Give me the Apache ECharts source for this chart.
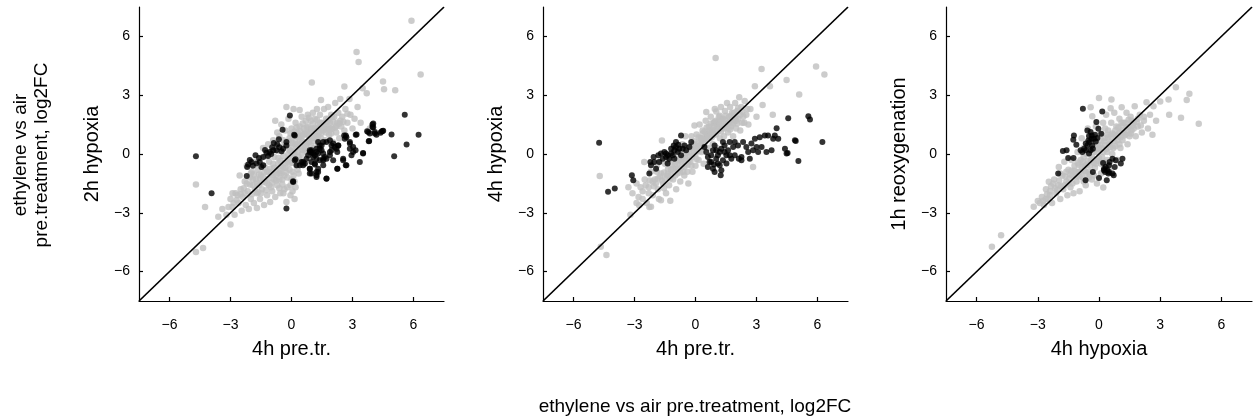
<!DOCTYPE html>
<html><head><meta charset="utf-8">
<script src="https://cdn.jsdelivr.net/npm/echarts@6/dist/echarts.min.js"></script>
<style>html,body{margin:0;padding:0;background:#fff}#c{width:1253px;height:420px}</style>
</head><body><div id="c"></div><script>
const tickValues=[-6,-3,0,3,6];
const axisRange=[-7.5,7.5];
const xNames=['4h pre.tr.','4h pre.tr.','4h hypoxia'];
const yNames=['2h hypoxia','4h hypoxia','1h reoxygenation'];
const outerYName=['ethylene vs air','pre.treatment, log2FC'];
const outerXName='ethylene vs air pre.treatment, log2FC';

const p1Grey=[[-3.2,-3.1],[-3.0,-3.6],[-3.0,-2.3],[-2.9,-2.7],[-2.8,-3.1],[-2.75,-2.0],[-2.6,-2.5],[-2.55,-1.1],[-2.5,-1.8],[-2.45,-2.9],[-2.4,-2.2],
[-2.3,-1.4],[-2.25,-2.6],[-2.2,-0.6],[-2.15,-1.9],[-2.1,-2.8],[-2.05,-1.2],[-2.0,-2.3],[-1.95,-0.9],[-1.9,-1.6],[-1.85,-2.5],[-1.8,-0.4],[-1.75,-1.3],[-1.7,-2.0],[-1.7,-2.75],[-1.65,-0.8],[-1.6,-1.6],[-1.55,-2.3],
[-1.5,-0.2],[-1.5,-1.1],[-1.45,-1.8],[-1.4,0.3],[-1.4,-0.6],[-1.35,-2.6],[-1.3,-1.4],[-1.25,-0.1],[-1.2,-0.9],[-1.2,-2.1],[-1.15,0.5],[-1.1,-0.4],[-1.1,-1.6],[-1.05,-2.45],[-1.0,0.1],[-1.0,-1.0],[-0.95,-1.9],[-0.9,0.7],[-0.9,-0.5],[-0.85,-1.3],[-0.8,1.7],[-0.8,0.2],[-0.8,-2.2],
[-0.75,-0.8],[-0.7,1.1],[-0.7,0.4],[-0.7,-1.6],[-0.65,-0.2],[-0.6,0.9],[-0.6,-1.0],[-0.55,-2.0],[-0.5,1.5],[-0.5,0.2],[-0.5,-0.6],[-0.45,-1.3],[-0.4,0.7],[-0.4,-0.1],[-0.35,-1.8],[-0.3,1.2],[-0.3,-0.7],[-0.25,2.4],[-0.25,0.4],[-0.25,-2.45],[-0.2,-1.2],[-0.15,1.8],[-0.15,0.0],[-0.1,0.8],[-0.1,-0.5],[-0.05,-1.6],[-0.05,-2.1],
[0.0,1.3],[0.0,0.3],[0.05,-0.9],[0.1,2.3],[0.1,0.9],[0.1,-0.2],[0.15,-1.4],[0.15,-2.3],[0.2,1.6],[0.2,0.5],[0.25,-0.6],[0.3,1.1],[0.3,0.1],[0.35,-1.0],[0.4,2.25],[0.4,1.4],[0.4,0.6],[0.45,-0.3],[0.5,1.9],[0.5,0.9],[0.55,0.2],[0.6,1.3],[0.6,-0.5],[0.65,0.6],[0.7,1.7],[0.7,1.0],[0.75,0.1],[0.8,2.0],
[0.8,1.4],[0.85,0.6],[0.9,1.1],[0.9,-0.2],[0.95,1.7],[1.0,3.65],[1.0,0.8],[1.05,2.1],[1.1,1.3],[1.1,0.3],[1.15,1.8],[1.2,0.9],[1.25,2.3],[1.3,1.5],[1.3,0.5],[1.35,1.1],[1.4,2.0],[1.45,2.75],[1.45,0.8],[1.5,1.6],[1.55,1.2],[1.6,2.3],
[1.65,0.7],[1.7,1.8],[1.75,1.3],[1.8,2.4],[1.85,1.0],[1.9,1.6],[1.95,2.0],[2.0,1.3],[2.05,0.6],[2.1,1.9],[2.15,2.6],[2.2,1.1],[2.25,1.6],[2.3,2.1],[2.35,0.8],[2.4,2.8],[2.45,1.4],[2.5,1.9],
[2.6,3.45],[2.6,1.2],[2.65,2.3],[2.75,1.6],[2.85,2.8],[2.9,2.0],[3.0,1.3],[3.1,1.8],[3.2,5.2],[3.25,2.4],[3.3,4.7],[3.4,1.6],[3.5,3.35],[3.7,3.1],[3.85,1.3],[4.5,3.7],[4.55,3.3],[5.1,3.25],[5.9,6.8],[6.35,4.05],
[-4.7,-5.0],[-4.35,-4.8],[-4.7,-1.55],[-4.25,-2.7],[-3.4,-2.8],[-3.6,-3.2],
[-2.35,-1.75],[-2.05,-1.55],[-1.85,-1.05],[-1.65,-1.95],[-1.45,-1.45],[-1.35,-0.95],[-1.25,-1.85],[-1.05,-0.75],[-0.95,-1.45],[-0.85,-0.15],[-0.75,-1.05],[-0.65,0.15],[-0.55,-0.35],[-0.45,-1.55],[-0.35,0.45],[-0.35,-0.45],[-0.25,-0.95],[-0.15,0.65],[-0.15,-0.25],[-0.05,1.05],[-0.05,0.15],[0.05,-0.45],[0.05,0.55],[0.15,1.15],[0.15,0.05],[0.25,0.35],[0.25,1.35],[0.35,0.85],[0.35,-0.15],[0.45,1.15],[0.45,0.35],[0.55,1.55],[0.55,0.65],[0.65,1.05],[0.65,0.25],[0.75,1.35],[0.75,0.55],[0.85,1.85],[0.85,0.95],[0.95,1.25],[0.95,0.45],[1.05,1.55],[1.05,0.65],[1.15,1.05],[1.25,1.75],[1.25,0.75],[1.35,1.35],[1.45,1.05],[1.55,1.55],[1.65,1.25],[1.75,1.65],[1.85,1.35],[1.95,1.05],[2.05,1.65],[2.15,1.35],[2.35,1.55],[2.55,1.65],[2.75,2.05],[-2.65,-2.1],[-2.85,-2.5],[-1.95,-2.05],[-1.55,-1.25],[-1.15,-1.25],[-0.55,-0.85],[0.1,-1.1],[0.3,-0.8],[-0.6,-1.3],[-1.9,-1.3],
[-2.7,-2.35],[-2.5,-2.05],[-2.3,-2.0],[-2.2,-1.5],[-2.0,-1.0],[-1.8,-1.8],[-1.7,-1.5],[-1.6,-1.05],[-1.5,-2.0],[-1.4,-1.2],[-1.3,-0.7],[-1.2,-1.5],[-1.1,-0.9],[-1.0,-1.7],[-0.9,-1.1],[-0.85,-0.7],[-0.75,-1.35],[-0.65,-0.5],[-0.6,-1.75],[-0.5,-1.0],[-0.4,-0.7],[-0.35,-1.1],[-0.2,-0.4],[-0.2,-1.7],[-0.1,0.2],[-0.1,-0.8],[0.0,0.6],[0.0,-1.3],[0.1,0.0],[0.2,-0.4],[0.2,0.8],[0.3,0.5],[0.35,-0.5],[0.4,0.9],[0.5,0.55],[0.5,0.0],[0.6,1.0],[0.7,0.4],[0.8,1.1],[0.9,0.75],[1.0,1.3],[1.1,0.9],[1.2,1.3],[1.3,0.9],[1.4,1.6],[1.5,1.3],[1.6,1.5],[1.7,1.1],[1.8,1.8],[1.9,1.25],[2.0,1.9],[2.2,1.4],[2.4,1.7],[-2.9,-2.0],[-3.1,-2.7],[0.05,-1.9],[0.2,-1.7],[-0.4,-2.0]];

const p1Black=[[-4.7,-0.12],[-3.93,-2.0],[-0.08,1.97],[-0.44,1.24],[-0.87,0.56],[-0.62,0.75],[0.13,0.98],[-0.25,0.61],[-0.25,0.44],[-1.77,-0.07],[-2.13,-0.53],[-2.18,-0.66],[-2.2,-1.12],[-1.97,-0.41],[-1.72,-0.49],[-1.56,-0.41],[-1.39,-0.15],[-1.23,0.07],[-1.07,0.1],[-0.9,0.19],[-0.74,0.19],[-0.49,0.14],[-0.41,0.27],[-1.39,-0.58],[-1.48,-0.66],[-1.9,-0.6],[-1.6,-0.2],[-1.15,-0.1],[-0.95,0.35],[-0.6,0.35],[-2.05,-0.3],[-1.3,0.2],[-1.0,0.0],[-0.7,0.5],[0.16,0.95],
[-0.25,-2.78],[0.08,-1.39],[0.2,-0.27],
[0.49,-0.41],[0.57,-0.58],[0.66,-0.49],[0.9,0.19],[0.98,0.1],[1.07,0.02],[1.23,0.27],[1.31,0.61],[1.39,0.44],[1.48,0.19],[1.56,0.02],[1.56,-0.32],[1.23,-0.24],[0.9,-0.75],[0.9,-1.0],[1.23,-1.17],[1.31,-0.92],[1.15,-0.54],[1.72,-1.25],[1.89,0.1],[1.97,0.44],[2.13,0.36],[2.3,0.44],[2.05,-0.32],[2.25,-0.75],[2.54,-0.24],[2.67,-0.58],[2.59,0.95],[2.7,0.86],[2.87,0.61],[2.87,0.27],[3.03,0.1],[3.16,0.98],[3.36,-0.41],[3.52,0.02],[3.15,0.19],[3.77,1.12],[3.82,0.66],[3.98,1.51],[4.02,1.37],[4.1,1.12],[4.18,0.98],[4.43,1.15],[4.51,1.19],[4.92,1.0],[5.05,-0.12],[5.57,2.0],[5.66,0.49],[6.25,0.98],[2.25,0.1],
[1.89,0.7],[1.72,0.61],[1.56,0.61],[1.48,0.44],[1.39,0.27],[1.31,0.02],[1.23,0.1],[1.15,-0.07],[1.07,-0.15],[0.98,0.19],[0.9,0.1],[0.82,-0.07],[0.74,-0.24],[0.98,-0.41],[1.15,-0.49],[1.39,-0.32],[1.56,-0.24],[1.72,-0.24],[1.89,-0.07],[1.64,-0.15],[1.56,-0.58],[1.31,-0.75],[1.23,-0.92],[0.9,-0.75],[0.98,-1.0],[1.23,-1.09],[1.72,-1.26],[0.57,-0.41],[0.41,-0.58],[0.25,-0.58],[0.16,-0.32],[0.08,-1.43],[2.3,0.44],[2.21,0.27],[2.05,0.53],[1.97,0.19],[2.67,0.95],[2.62,0.78],[2.87,0.53],[2.95,-0.07],[2.54,-0.32],[2.7,-0.58],[2.26,-0.75],[3.2,0.99],[3.03,0.36],[3.8,0.65],[3.52,0.05],[3.72,1.16],[3.85,1.04],[4.1,1.04],[4.48,1.17],[4.38,1.09],[4.02,1.55],[3.98,1.38]];

const p2Grey=[[-4.71,-1.12],[-4.66,-4.73],[-4.38,-5.15],[-3.3,-1.7],[-3.2,-3.1],[-3.1,-2.0],[-2.9,-1.5],[-2.8,-2.2],[-2.77,-2.62],[-2.6,-1.9],[-2.52,-0.41],[-2.5,-1.3],[-2.4,-2.5],[-2.3,-1.7],[-2.27,-2.7],[-2.2,-0.9],[-2.19,-2.69],[-2.1,-2.1],[-2.0,-1.3],[-1.9,-0.6],[-1.85,-1.8],[-1.8,-2.3],[-1.7,-2.36],[-1.7,-1.0],[-1.65,0.69],[-1.6,-1.5],[-1.5,-0.5],[-1.45,-2.0],[-1.4,-1.1],[-1.3,-0.3],[-1.3,-1.6],[-1.24,-2.39],[-1.2,-0.8],[-1.1,-1.3],[-1.05,0.1],[-1.0,-0.5],[-0.95,-1.8],[-0.9,-1.0],[-0.85,0.2],[-0.8,-0.3],[-0.75,-1.4],[-0.7,-0.7],[-0.65,0.5],[-0.6,-0.1],[-0.55,-1.1],[-0.5,0.9],[-0.5,-0.5],[-0.45,0.3],[-0.4,-0.9],[-0.35,-1.5],[-0.3,0.1],[-0.25,-0.4],[-0.2,0.9],[-0.15,-0.9],[-0.1,0.5],[-0.05,1.46],[0.0,0.0],[0.0,-0.6],[0.05,1.0],[0.1,0.4],[0.15,-0.3],[0.2,1.5],[0.25,0.8],[0.3,0.1],[0.35,1.2],[0.4,-0.5],[0.45,0.6],[0.5,1.7],[0.53,2.14],[0.55,1.0],[0.6,0.3],[0.65,1.4],[0.7,0.8],[0.75,1.9],[0.8,1.2],[0.85,0.5],[0.9,1.6],[0.95,2.3],[0.99,4.9],[1.0,1.0],[1.02,2.17],[1.05,0.3],[1.1,1.4],[1.15,1.9],[1.2,0.8],[1.25,2.4],[1.3,1.3],[1.35,1.8],[1.4,0.9],[1.45,2.2],[1.5,1.5],[1.55,2.6],[1.6,1.1],[1.65,1.9],[1.7,2.4],[1.75,1.4],[1.8,2.1],[1.85,0.9],[1.9,1.7],[1.95,2.6],[2.0,1.3],[2.05,2.2],[2.1,1.8],[2.15,2.9],[2.2,1.2],[2.25,2.4],[2.3,1.6],[2.42,2.7],[2.5,2.0],[2.6,1.5],[2.7,2.3],[2.83,-0.66],[2.92,3.46],[3.0,1.9],[3.25,4.34],[3.3,2.5],[3.66,3.46],[3.8,2.0],[4.48,3.78],[5.1,3.03],[5.93,4.47],[6.34,4.05],
[-2.45,-1.6],[-2.25,-1.35],[-2.05,-1.65],[-1.85,-1.25],[-1.65,-1.35],[-1.55,-0.95],[-1.35,-0.75],[-1.25,-1.25],[-1.15,-0.55],[-0.95,-0.75],[-0.85,-0.45],[-0.75,-0.95],[-0.65,-0.25],[-0.55,-0.65],[-0.45,0.05],[-0.35,-0.35],[-0.25,0.35],[-0.15,-0.15],[-0.05,0.65],[0.05,0.25],[0.15,0.85],[0.25,0.45],[0.35,1.05],[0.45,0.75],[0.55,1.35],[0.65,1.05],[0.75,1.55],[0.85,1.25],[0.95,1.65],[1.05,1.35],[1.15,1.65],[1.25,1.15],[1.35,1.45],[1.45,1.75],[1.55,1.35],[1.65,1.65],[1.75,1.95],[1.85,1.55],[1.95,1.85],[2.05,1.55],[2.2,2.0],[2.35,1.9],[0.3,0.6],[0.6,0.9],[-0.9,-0.2],[-1.9,-0.9],[-2.6,-2.3],[-0.2,0.3],[0.9,1.0],[1.2,1.95],
[-2.3,-2.0],[-2.1,-1.4],[-1.95,-1.5],[-1.75,-1.15],[-1.55,-1.75],[-1.5,-1.25],[-1.35,-1.0],[-1.2,-1.05],[-1.1,-0.75],[-1.0,-1.1],[-0.85,-0.75],[-0.7,-0.4],[-0.6,-0.9],[-0.5,-0.2],[-0.4,-0.55],[-0.3,-0.1],[-0.2,-0.6],[-0.1,0.15],[0.0,0.4],[0.05,-0.25],[0.15,0.55],[0.2,0.15],[0.3,0.8],[0.4,0.4],[0.45,1.15],[0.55,0.75],[0.7,1.2],[0.8,0.85],[0.9,1.4],[1.0,1.7],[1.1,1.15],[1.2,1.5],[1.3,1.75],[1.4,1.3],[1.5,1.95],[1.6,1.55],[1.7,1.25],[1.8,1.75],[1.9,2.1],[2.0,1.7],[2.1,2.35],[2.3,2.15],[2.4,1.6],[2.55,2.3],[-2.7,-1.7],[-2.9,-2.5],[-1.8,-0.4]];

const p2Black=[[-4.74,0.58],[-4.3,-1.93],[-3.97,-1.76],[-3.13,-1.08],[-3.06,-1.34],[-2.27,-1.0],[-2.22,-0.41],[-2.19,-0.58],[-2.06,-0.15],[-1.94,-0.75],[-1.83,-0.07],[-1.7,0.02],[-1.53,0.1],[-1.37,-0.07],[-1.2,0.02],[-1.07,0.44],[-0.96,0.36],[-0.87,0.1],[-0.71,0.95],[-0.63,0.27],[-0.46,0.19],[-0.3,0.36],[-0.21,0.61],[-2.03,-0.41],[-1.78,-0.41],[-1.61,-0.24],[-1.45,-0.15],[-1.29,-0.24],[-1.12,-0.07],[-1.04,0.19],[-0.79,0.27],[-0.54,0.44],[-0.71,-0.07],[-1.04,-0.24],[-1.37,-0.49],[-0.96,0.61],[-0.84,0.47],[-1.2,0.27],[-1.45,0.02],
[0.44,0.36],[0.53,0.1],[0.61,-0.15],[0.69,-0.41],[0.77,-0.07],[0.86,0.19],[0.94,0.44],[1.02,-0.24],[1.1,-0.07],[1.19,0.1],[1.27,0.27],[1.35,0.61],[1.43,0.44],[1.52,-0.07],[1.6,0.19],[1.68,0.61],[1.76,-0.24],[1.85,0.36],[1.93,0.61],[2.09,0.44],[2.26,-0.15],[2.26,-0.32],[2.34,0.61],[2.5,0.36],[2.59,0.1],[2.67,-0.24],[2.75,0.53],[2.83,0.19],[2.92,0.78],[3.0,0.36],[3.08,0.1],[3.16,0.86],[3.25,0.36],[3.41,0.95],[3.49,0.1],[3.57,0.95],[3.74,0.19],[3.82,0.78],[3.9,0.95],[3.99,1.32],[4.07,0.78],[4.4,0.27],[4.53,0.05],[4.56,1.83],[4.93,0.66],[5.06,-0.36],[5.55,1.93],[5.63,1.76],[6.24,0.61],
[0.86,-0.75],[0.94,-0.92],[1.19,-0.58],[1.27,-0.83],[1.24,-1.08],[0.91,-0.54],[1.1,-0.49],[1.52,-0.49],[0.61,-0.66],[1.93,-0.07],[2.13,-0.24],[0.77,-0.41],[1.35,-0.32],[1.68,-0.07],[1.02,0.19],[1.43,0.1],[4.89,0.7],[4.48,0.02]];

const p3Grey=[[-5.25,-4.73],[-4.8,-4.14],[-3.2,-2.69],[-3.0,-2.4],[-2.8,-2.2],[-2.7,-2.6],[-2.6,-1.8],[-2.5,-2.3],[-2.46,-1.42],[-2.4,-1.9],[-2.3,-2.5],[-2.2,-1.3],[-2.1,-2.0],[-2.0,-1.6],[-1.97,-0.66],[-1.9,-2.3],[-1.8,-1.1],[-1.75,-1.8],[-1.7,-0.4],[-1.6,-1.4],[-1.55,-2.1],[-1.5,-0.8],[-1.4,-1.7],[-1.35,-0.3],[-1.3,-1.1],[-1.25,-2.0],[-1.2,-0.6],[-1.1,-1.4],[-1.05,0.1],[-1.0,-0.9],[-0.95,-1.9],[-0.9,-0.3],[-0.85,0.8],[-0.8,-1.2],[-0.75,0.3],[-0.7,-0.6],[-0.65,-1.6],[-0.6,0.0],[-0.55,1.3],[-0.5,-0.9],[-0.45,0.5],[-0.41,2.39],[-0.4,-0.3],[-0.35,-1.3],[-0.33,1.93],[-0.3,0.9],[-0.25,0.1],[-0.2,-0.7],[-0.15,1.4],[-0.1,-1.5],[-0.05,0.5],[0.0,2.86],[0.0,-0.2],[0.05,1.0],[0.1,-1.0],[0.15,0.3],[0.2,1.6],[0.21,-1.71],[0.25,-0.4],[0.3,0.8],[0.35,2.0],[0.4,0.1],[0.45,1.2],[0.5,-0.7],[0.55,0.6],[0.57,2.34],[0.6,1.6],[0.61,2.78],[0.65,0.0],[0.7,1.0],[0.75,2.1],[0.8,0.4],[0.85,1.4],[0.9,-0.3],[0.95,0.9],[1.0,1.8],[1.05,0.3],[1.1,1.2],[1.11,2.39],[1.15,0.7],[1.2,1.6],[1.3,1.0],[1.35,2.1],[1.4,0.5],[1.45,1.4],[1.5,0.9],[1.55,1.9],[1.6,1.2],[1.7,1.6],[1.75,2.44],[1.8,0.9],[1.9,1.4],[2.0,2.0],[2.1,1.1],[2.2,1.7],[2.33,2.64],[2.4,1.3],[2.5,2.0],[2.62,0.98],[2.67,2.44],[2.8,1.7],[3.0,2.68],[3.41,2.78],[3.44,2.0],[3.77,3.41],[4.02,1.85],[4.3,2.76],[4.43,3.07],[4.89,1.54],
[-2.75,-2.4],[-2.55,-2.05],[-2.35,-1.65],[-2.15,-1.75],[-1.95,-1.35],[-1.85,-1.65],[-1.65,-1.15],[-1.45,-1.25],[-1.35,-0.85],[-1.15,-0.95],[-1.05,-0.45],[-0.95,-1.15],[-0.85,-0.65],[-0.75,-0.15],[-0.65,-0.95],[-0.55,-0.35],[-0.45,-1.05],[-0.35,-0.05],[-0.25,-0.45],[-0.15,0.25],[-0.05,-0.35],[0.05,0.45],[0.15,-0.15],[0.25,0.65],[0.35,0.25],[0.45,0.85],[0.55,0.35],[0.65,1.05],[0.75,0.65],[0.85,0.95],[0.95,1.35],[1.05,0.85],[1.15,1.45],[1.25,0.95],[1.35,1.35],[1.45,1.75],[1.55,1.05],[1.65,1.45],[1.85,1.65],[2.05,1.45],[-0.5,0.3],[-0.2,0.6],[0.4,-0.3],[1.0,0.5],
[-2.9,-2.5],[-2.6,-2.3],[-2.4,-2.1],[-2.25,-1.5],[-2.05,-1.85],[-1.9,-1.0],[-1.7,-1.6],[-1.6,-0.9],[-1.5,-1.5],[-1.4,-1.05],[-1.3,-1.5],[-1.2,-0.85],[-1.1,-1.15],[-1.0,-0.55],[-0.9,-0.9],[-0.8,-0.4],[-0.75,-1.4],[-0.7,-0.85],[-0.6,-0.55],[-0.5,-1.2],[-0.45,-0.6],[-0.3,-0.25],[-0.25,-1.1],[-0.15,-0.5],[-0.1,0.1],[0.0,0.25],[0.1,-0.5],[0.1,0.7],[0.2,0.1],[0.3,0.45],[0.4,1.0],[0.5,0.5],[0.6,0.9],[0.7,0.3],[0.8,1.2],[0.9,0.7],[1.0,1.1],[1.1,1.6],[1.2,1.1],[1.3,1.6],[1.4,1.2],[1.6,1.7],[1.7,1.3],[1.9,1.8],[2.2,1.9],[0.3,1.3],[-0.1,0.8]];

const p3Black=[[-0.79,2.31],[0.16,2.17],[-0.13,1.63],[-1.23,0.95],[-1.26,0.73],[-1.11,0.47],[-1.77,0.15],[-1.59,0.19],[-0.57,1.2],[-0.41,1.12],[-0.36,0.95],[-0.25,0.78],[-0.52,0.69],[-0.46,0.61],[-0.33,0.44],[-0.16,0.64],[-0.08,0.81],[-0.3,0.27],[-0.41,0.19],[-0.66,0.19],[-0.82,0.1],[-0.9,0.19],[-0.57,0.44],[-0.2,0.98],[0.11,1.03],[-0.03,1.29],[-0.36,0.78],[-0.49,0.92],[-0.65,0.53],[-0.73,0.27],[-0.49,0.02],
[-1.51,-0.2],[-1.25,-0.2],[-2.0,-1.0],[-0.66,-1.34],[-0.3,-0.92],[0.0,-1.22],[0.38,-1.34],[0.2,-0.46],[0.33,-0.66],[0.41,-0.83],[0.3,-0.92],[0.25,-0.75],[0.49,-0.58],[0.52,-0.41],[0.66,-0.24],[0.82,-0.32],[0.77,-0.66],[0.66,-1.0],[0.72,-1.08],[1.07,-0.49],[1.15,-0.24],[0.46,-1.0],[0.49,-0.92],[0.24,-0.83]];

const panels=[[p1Grey,p1Black],[p2Grey,p2Black],[p3Grey,p3Black]];
const grids=[{left:139,top:7,width:305,height:294},{left:543,top:7,width:305,height:294},{left:946,top:7,width:306,height:294}];
const FONT='Liberation Sans, Arial, sans-serif';
const fmt=v=>String(v).replace('-','\u2212');
const axisBase={min:axisRange[0],max:axisRange[1],splitLine:{show:false},
  axisLine:{show:true,onZero:false,lineStyle:{color:'#000',width:1.2}},
  axisTick:{show:true,inside:true,length:4,customValues:tickValues,lineStyle:{color:'#000',width:1.2}},
  nameTextStyle:{fontFamily:FONT,fontSize:20,color:'#000'}};
const xAxes=[],yAxes=[],series=[];
for(let i=0;i<3;i++){
  xAxes.push(Object.assign({},axisBase,{type:'value',gridIndex:i,name:xNames[i],nameLocation:'middle',nameGap:38,
    axisLabel:{customValues:tickValues,formatter:fmt,margin:17,fontFamily:FONT,fontSize:14,color:'#000'}}));
  yAxes.push(Object.assign({},axisBase,{type:'value',gridIndex:i,name:yNames[i],nameLocation:'middle',nameGap:37,
    axisLabel:{customValues:tickValues,formatter:fmt,margin:9,fontFamily:FONT,fontSize:14,color:'#000'}}));
  series.push({type:'scatter',xAxisIndex:i,yAxisIndex:i,data:panels[i][0],symbolSize:6.5,itemStyle:{color:'#bfbfbf'},silent:true,z:2});
  series.push({type:'scatter',xAxisIndex:i,yAxisIndex:i,data:panels[i][1],symbolSize:6,itemStyle:{color:'#000'},silent:true,z:3});
  series.push({type:'line',xAxisIndex:i,yAxisIndex:i,data:[[axisRange[0],axisRange[0]],[axisRange[1],axisRange[1]]],symbol:'none',lineStyle:{color:'#000',width:1.7},silent:true,z:4});
}
const chart=echarts.init(document.getElementById('c'),null,{renderer:'canvas'});
chart.setOption({animation:false,backgroundColor:'#fff',grid:grids,xAxis:xAxes,yAxis:yAxes,series:series,
  graphic:[
    {type:'text',x:21,y:155,rotation:Math.PI/2,style:{text:outerYName[0],fontFamily:FONT,fontSize:19,fill:'#000',textAlign:'center',textVerticalAlign:'middle'}},
    {type:'text',x:42,y:155,rotation:Math.PI/2,style:{text:outerYName[1],fontFamily:FONT,fontSize:19,fill:'#000',textAlign:'center',textVerticalAlign:'middle'}},
    {type:'text',x:695,y:407,style:{text:outerXName,fontFamily:FONT,fontSize:19,fill:'#000',textAlign:'center',textVerticalAlign:'middle'}}
  ]});
</script></body></html>
